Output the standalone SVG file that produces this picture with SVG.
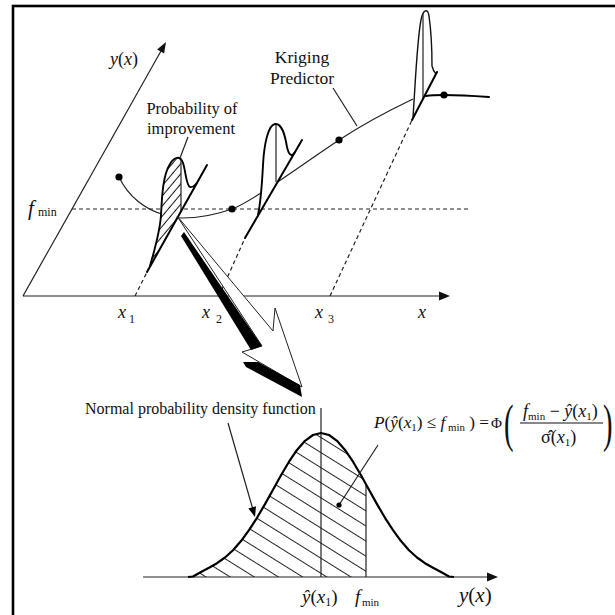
<svg xmlns="http://www.w3.org/2000/svg" width="615" height="615" viewBox="0 0 615 615">
<defs>
<style>
text{font-family:"Liberation Serif","Times New Roman",serif;fill:#111}
.it{font-style:italic}
.thin{fill:none;stroke:#222;stroke-width:1.2}
.thick{fill:none;stroke:#000;stroke-width:2;stroke-linecap:round}
.dash{fill:none;stroke:#222;stroke-width:1.2;stroke-dasharray:4 3}
.shape{fill:none;stroke:#000;stroke-width:1.9;stroke-linejoin:round}
</style>
<pattern id="ht" patternUnits="userSpaceOnUse" width="10" height="6.5" patternTransform="rotate(-50)">
<line x1="0" y1="3.2" x2="10" y2="3.2" stroke="#111" stroke-width="1"/>
</pattern>
<pattern id="hb" patternUnits="userSpaceOnUse" width="20" height="12.8" patternTransform="translate(0,3) rotate(32)">
<line x1="0" y1="6.4" x2="20" y2="6.4" stroke="#222" stroke-width="1"/>
</pattern>
<clipPath id="c1"><path d="M150,266 C155,248 160,232 161,215 C162,195 163,175 170,164 C173,159 177,156 181,157 L181,212 Z"/></clipPath>
<clipPath id="c2"><polygon points="193,577 193,576.5 201,572 209,567.8 217,563.2 225,557.5 233,550.2 241,541.1 249,530.2 257,517.8 265,504.1 273,489.7 281,475.2 289,461.7 297,449.9 305,440.8 313,435 321,433 329,435 337,440.8 345,449.9 353,461.7 361,475.2 366,484.3 366,577"/></clipPath>
</defs>
<rect x="13" y="6" width="615" height="620" fill="none" stroke="#000" stroke-width="2.6"/>

<g id="top-axes">
<line class="thin" x1="23" y1="296" x2="161" y2="51"/>
<polygon points="166,42 164.1,53.6 157.1,49.6" fill="#111"/>
<line class="thin" x1="23" y1="296" x2="440" y2="296"/>
<polygon points="450,296 439,291.5 439,300.5" fill="#111"/>
<line class="dash" x1="72" y1="209" x2="470" y2="209"/>
<line class="dash" x1="135" y1="296" x2="147" y2="272"/>
<line class="dash" x1="219" y1="296" x2="245" y2="238"/>
<line class="dash" x1="330" y1="296" x2="412" y2="120"/>
<text x="110" y="65" font-size="18"><tspan class="it">y</tspan>(<tspan class="it">x</tspan>)</text>
<text x="28" y="215" font-size="21" class="it">f</text>
<text x="38" y="216" font-size="12">min</text>
<text x="118" y="318" font-size="18" class="it">x</text><text x="129" y="323" font-size="12">1</text>
<text x="202" y="318" font-size="18" class="it">x</text><text x="216" y="323" font-size="12">2</text>
<text x="315" y="318" font-size="18" class="it">x</text><text x="328" y="323" font-size="12">3</text>
<text x="418" y="318" font-size="18" class="it">x</text>
</g>

<g id="kriging">
<path class="thin" d="M119,177 C128,196 145,210 165,215 C172,217 177,218 182,218 C200,218 218,214 232,209 C250,203 300,166 339,140 C365,123 390,110 413,99"/>
<path class="thick" d="M426,96 C432,95 438,95 444,95 C460,95 475,96 489,97"/>
<circle cx="119" cy="177" r="3.6" fill="#000"/>
<circle cx="232" cy="209" r="3.6" fill="#000"/>
<circle cx="339" cy="140" r="3.6" fill="#000"/>
<circle cx="444" cy="95" r="3.6" fill="#000"/>
<text x="302" y="63" font-size="17.5" text-anchor="middle">Kriging</text>
<text x="302" y="84" font-size="17.5" text-anchor="middle">Predictor</text>
<line class="thin" x1="333" y1="88" x2="357" y2="126"/>
</g>

<g id="dist-x1">
<path d="M150,266 C155,248 160,232 161,215 C162,195 163,175 170,164 C174,157 180,155 183,163 C186,172 186,185 190,187 C193,188 195,185 197,183 Z" fill="#fff"/>
<rect x="140" y="150" width="50" height="125" fill="url(#ht)" clip-path="url(#c1)"/>
<path class="shape" d="M150,266 C155,248 160,232 161,215 C162,195 163,175 170,164 C174,157 180,155 183,163 C186,172 186,185 190,187 C193,188 195,185 197,183"/>
<line class="thin" x1="181" y1="158" x2="181" y2="212"/>
<line class="thick" x1="147" y1="272" x2="207" y2="165"/>
<text x="192" y="114" font-size="16.5" text-anchor="middle">Probability of</text>
<text x="191" y="134" font-size="16.5" text-anchor="middle">improvement</text>
<line class="thin" x1="188" y1="137" x2="180" y2="158"/>
</g>

<g id="dist-x2">
<path d="M258,215 C261,200 262,185 263,165 C264,145 268,125 275,124 C282,123 285,135 287,147 C289,156 292,157 295,152 Z" fill="#fff"/>
<path class="shape" d="M258,215 C261,200 262,185 263,165 C264,145 268,125 275,124 C282,123 285,135 287,147 C289,156 292,157 295,152"/>
<line class="thin" x1="276" y1="125" x2="276" y2="182"/>
<line class="thick" x1="245" y1="238" x2="302" y2="140"/>
</g>

<g id="dist-x3">
<path d="M413,117 C415,90 417,40 421,20 C423,9 428,8 429,16 C431,30 432,55 432,66 C433,70 434,72 436,74 Z" fill="#fff"/>
<path style="fill:none;stroke:#111;stroke-width:1.4" d="M413,117 C415,90 417,40 421,20 C423,9 428,8 429,16 C431,30 432,55 432,66 C433,70 434,72 436,74"/>
<line class="thin" x1="423" y1="14" x2="423" y2="99"/>
<line class="thick" x1="412" y1="120" x2="437" y2="72"/>
</g>

<g id="big-arrow">
<polygon points="177,216 273,331 275,308 302,387 242,352 262,346" fill="#fff" stroke="#222" stroke-width="1"/>
<polygon points="184,232 262,346 251,350 181,236" fill="#000"/>
<polygon points="243,362 258,362 300,385 302,397 246,367" fill="#000"/>
</g>

<g id="bottom-plot">
<rect x="190" y="425" width="180" height="155" fill="url(#hb)" clip-path="url(#c2)"/>
<line class="thin" x1="143" y1="577" x2="488" y2="577"/>
<polygon points="498,577 487,572.5 487,581.5" fill="#111"/>
<line class="thin" x1="321" y1="408" x2="321" y2="577"/>
<line class="thin" x1="366" y1="484" x2="366" y2="577"/>
<polyline fill="none" stroke="#000" stroke-width="2.2" stroke-linejoin="round" points="188,577 193,576.5 201,572 209,567.8 217,563.2 225,557.5 233,550.2 241,541.1 249,530.2 257,517.8 265,504.1 273,489.7 281,475.2 289,461.7 297,449.9 305,440.8 313,435 321,433 329,435 337,440.8 345,449.9 353,461.7 361,475.2 369,489.7 377,504.1 385,517.8 393,530.2 401,541.1 409,550.2 417,557.5 425,563.2 433,567.8 441,572 449,576.5 454,577"/>
<text x="85" y="414" font-size="16">Normal probability density function</text>
<line class="thin" x1="228" y1="423" x2="252.5" y2="508"/>
<polygon points="255,517 256,506.3 248.4,508.5" fill="#000"/>
<line class="thin" x1="378" y1="445" x2="339" y2="505"/>
<circle cx="339" cy="505" r="2.6" fill="#000"/>
<text x="302" y="603" font-size="19"><tspan class="it">ŷ</tspan>(<tspan class="it">x</tspan><tspan font-size="12" dy="3">1</tspan><tspan dy="-3">)</tspan></text>
<text x="355" y="603" font-size="19" class="it">f</text>
<text x="362" y="606" font-size="11">min</text>
<text x="459" y="602" font-size="21"><tspan class="it">y</tspan>(<tspan class="it">x</tspan>)</text>
</g>

<g id="formula">
<text x="374" y="428" font-size="17.5" textLength="115" lengthAdjust="spacingAndGlyphs"><tspan class="it">P</tspan>(<tspan class="it">ŷ</tspan>(<tspan class="it">x</tspan><tspan font-size="11" dy="3">1</tspan><tspan dy="-3">) ≤ </tspan><tspan class="it">f</tspan><tspan font-size="11" dy="3"> min</tspan><tspan dy="-3"> ) =</tspan></text>
<text x="491" y="428" font-size="15">Φ</text>
<text transform="translate(504,441) scale(0.55,1)" font-size="52">(</text>
<text x="523" y="417" font-size="18"><tspan class="it">f</tspan><tspan font-size="11" dy="3">min</tspan><tspan dy="-3"> − </tspan><tspan class="it">ŷ</tspan>(<tspan class="it">x</tspan><tspan font-size="11" dy="3">1</tspan><tspan dy="-3">)</tspan></text>
<line x1="520" y1="423" x2="603" y2="423" stroke="#111" stroke-width="1"/>
<text x="541" y="443" font-size="18">σ̂(<tspan class="it">x</tspan><tspan font-size="11" dy="3">1</tspan><tspan dy="-3">)</tspan></text>
<text transform="translate(603,441) scale(0.55,1)" font-size="52">)</text>
</g>
</svg>
